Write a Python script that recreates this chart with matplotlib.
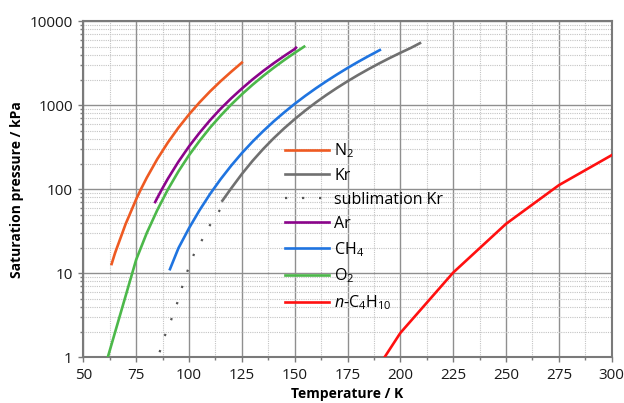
import matplotlib
matplotlib.use("Agg")
import matplotlib.pyplot as plt
from matplotlib.ticker import FixedLocator, MultipleLocator, LogLocator, NullFormatter, FuncFormatter

plt.rcParams['font.family'] = ['Open Sans', 'DejaVu Sans']
plt.rcParams['mathtext.fontset'] = 'custom'
plt.rcParams['mathtext.rm'] = 'Open Sans'
plt.rcParams['mathtext.it'] = 'Open Sans:italic'
plt.rcParams['mathtext.bf'] = 'Open Sans:bold'

# Saturation pressure curves (T in K, p in kPa)
n2_T = [63.4, 65, 70, 75, 77.35, 80, 85, 90, 95, 100, 105, 110, 115, 120, 125]
n2_p = [12.9, 17.4, 38.5, 76.0, 101.3, 137.0, 229.1, 360.4, 540.9, 778.6, 1084, 1467, 1939, 2513, 3220]

kr_T = [115.8, 119.8, 125, 130, 135, 140, 145, 150, 155, 160, 165, 170, 175, 180, 185, 190, 195, 200, 205, 209.3]
kr_p = [73.2, 101.3, 152, 217, 300, 404, 531, 684, 866, 1080, 1327, 1610, 1932, 2295, 2702, 3156, 3660, 4217, 4830, 5500]

kr_sub_T = [86.1, 88.4, 91.5, 94.2, 96.6, 99.2, 102.5, 106.0, 110.0, 115.8]
kr_sub_p = [1.15, 1.76, 2.76, 4.24, 6.7, 10.5, 17.3, 24.5, 37.8, 63.0]

ar_T = [84.0, 85, 87.3, 90, 95, 100, 105, 110, 115, 120, 125, 130, 135, 140, 145, 150, 150.6]
ar_p = [70.5, 79.0, 101.3, 133.6, 213.0, 323.8, 471.6, 666.0, 912, 1213, 1580, 2027, 2550, 3158, 3860, 4676, 4850]

ch4_T = [91.0, 95, 100, 105, 110, 115, 120, 125, 130, 135, 140, 145, 150, 155, 160, 165, 170, 175, 180, 185, 190.3]
ch4_p = [11.2, 19.9, 34.4, 56.4, 88.2, 132.3, 191.6, 269.4, 367.6, 490, 641, 822, 1040, 1295, 1592, 1935, 2329, 2780, 3290, 3862, 4550]

o2_T = [60, 75, 80, 85, 90, 95, 100, 105, 110, 115, 120, 125, 130, 135, 140, 145, 150, 154.5]
o2_p = [0.73, 14.5, 30.1, 56.6, 99.3, 163.3, 254.1, 377.1, 543.3, 754, 1022, 1351, 1749, 2226, 2788, 3446, 4210, 5000]

c4_T = [175, 200, 225, 250, 275, 300]
c4_p = [0.21, 1.95, 10.2, 38.8, 112, 255]

x_ticks = [50, 75, 100, 125, 150, 175, 200, 225, 250, 275, 300]
y_ticks = [1, 10, 100, 1000, 10000]

fig = plt.figure(figsize=(6.24, 4.03), dpi=100)
ax = fig.add_axes([0.1335, 0.1134, 0.8468, 0.8337])

lw = 1.9
ax.plot(n2_T, n2_p, color='#ee5a22', lw=lw, label='N$_2$', zorder=5)
ax.plot(kr_T, kr_p, color='#707070', lw=lw, label='Kr', zorder=5)
ax.plot(kr_sub_T, kr_sub_p, color='#555555', lw=1.6, dashes=(1.0, 6.65),
        dash_capstyle='butt', label='sublimation Kr', zorder=5)
ax.plot(ar_T, ar_p, color='#8b048b', lw=lw, label='Ar', zorder=5)
ax.plot(ch4_T, ch4_p, color='#1f74e0', lw=lw, label='CH$_4$', zorder=5)
ax.plot(o2_T, o2_p, color='#4cb84a', lw=lw, label='O$_2$', zorder=5)
ax.plot(c4_T, c4_p, color='#ff1010', lw=lw, label='$\\mathit{n}$-C$_4$H$_{10}$', zorder=5)

ax.set_yscale('log')
ax.set_xlim(50, 300)
ax.set_ylim(1, 10000)

ax.xaxis.set_major_locator(FixedLocator(x_ticks))
ax.xaxis.set_minor_locator(MultipleLocator(12.5))
ax.yaxis.set_major_locator(FixedLocator(y_ticks))
ax.yaxis.set_minor_locator(LogLocator(base=10, subs=range(2, 10)))
ax.yaxis.set_minor_formatter(NullFormatter())
ax.yaxis.set_major_formatter(FuncFormatter(lambda v, p: f"{v:.0f}"))

ax.grid(which='major', color='#8f8f8f', lw=1.0, ls='-')
ax.grid(which='minor', color='#c4c4c4', lw=0.8, ls=(0, (1, 1)))
ax.set_axisbelow(True)

for s in ax.spines.values():
    s.set_color('#7a7a7a')
    s.set_linewidth(1.5)

ax.tick_params(which='both', direction='out', color='#7a7a7a', width=1.0)
ax.tick_params(which='major', length=3.5, pad=4, labelsize=11, labelcolor='#1a1a1a')
ax.tick_params(which='minor', length=2.5)

ax.set_xlabel('Temperature / K', fontsize=10, fontweight='bold', labelpad=3)
ax.set_ylabel('Saturation pressure / kPa', fontsize=10, fontweight='bold', labelpad=4)

leg = ax.legend(loc='upper left', bbox_to_anchor=(0.369, 0.662), frameon=False,
                fontsize=11.5, handlelength=2.75, handletextpad=0.35,
                labelspacing=0.5, borderaxespad=0)

fig.savefig('out.png', dpi=100)
